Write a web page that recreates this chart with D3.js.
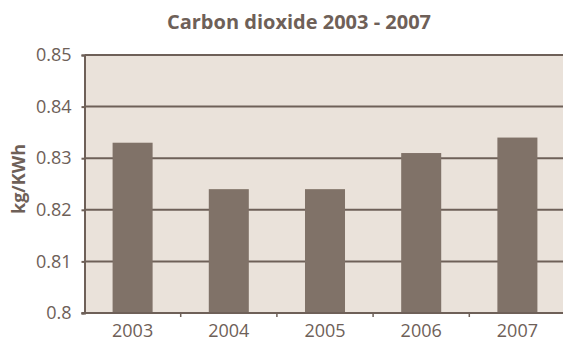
<!DOCTYPE html>
<html>
<head>
<meta charset="utf-8">
<script src="https://cdn.jsdelivr.net/npm/d3@7"></script>
<style>
  html, body { margin: 0; padding: 0; background: #ffffff; }
  svg { display: block; }
  text { font-family: "Open Sans", sans-serif; fill: #6e6058; }
</style>
</head>
<body>
<script>
// Carbon dioxide emission factor per year (kg/KWh)
const years = ["2003", "2004", "2005", "2006", "2007"];
const values = [0.833, 0.824, 0.824, 0.831, 0.834];
const yTicks = [0.8, 0.81, 0.82, 0.83, 0.84, 0.85];

const width = 563, height = 341;
const margin = { top: 55, right: -2.5, bottom: 28, left: 84.5 };

const ink = "#6e6058";
const barColor = "#807268";
const plotBg = "#eae2da";

const svg = d3.select("body").append("svg")
  .attr("width", width)
  .attr("height", height);

const x = d3.scaleBand()
  .domain(years)
  .range([margin.left, width - margin.right])
  .paddingInner(0.584)
  .paddingOuter(0.292);

const y = d3.scaleLinear()
  .domain([0.8, 0.85])
  .range([height - margin.bottom, margin.top]);

// plot background
svg.append("rect")
  .attr("x", margin.left)
  .attr("y", y(0.85))
  .attr("width", width - margin.left)
  .attr("height", y(0.8) - y(0.85))
  .attr("fill", plotBg);

// horizontal gridlines
svg.append("g")
  .selectAll("line")
  .data(yTicks.filter(d => d > 0.8))
  .join("line")
  .attr("x1", margin.left)
  .attr("x2", width)
  .attr("y1", d => y(d))
  .attr("y2", d => y(d))
  .attr("stroke", ink)
  .attr("stroke-width", 2);

// bars
svg.append("g")
  .selectAll("rect")
  .data(years.map((yr, i) => ({ yr, v: values[i] })))
  .join("rect")
  .attr("x", d => x(d.yr))
  .attr("width", x.bandwidth())
  .attr("y", d => y(d.v))
  .attr("height", d => y(0.8) - y(d.v))
  .attr("fill", barColor);

// y axis
const yAxis = svg.append("g")
  .attr("transform", `translate(${margin.left},0)`)
  .call(d3.axisLeft(y).tickValues(yTicks).tickSize(3).tickPadding(10)
    .tickFormat(d => d3.format("")(+d.toFixed(2))));
yAxis.select(".domain").attr("stroke", ink).attr("stroke-width", 2);
yAxis.selectAll(".tick line").attr("stroke", ink).attr("stroke-width", 2);
yAxis.selectAll(".tick text")
  .attr("fill", ink)
  .style("font-size", "18px")
  .style("font-family", "'Open Sans', sans-serif");

// x axis with small ticks at category boundaries
const xAxisY = y(0.8);
svg.append("line")
  .attr("x1", margin.left - 3)
  .attr("x2", width)
  .attr("y1", xAxisY)
  .attr("y2", xAxisY)
  .attr("stroke", ink)
  .attr("stroke-width", 2);

svg.append("g")
  .selectAll("line")
  .data(years.slice(1))
  .join("line")
  .attr("x1", d => x(d) - x.step() * x.paddingInner() / 2)
  .attr("x2", d => x(d) - x.step() * x.paddingInner() / 2)
  .attr("y1", xAxisY)
  .attr("y2", xAxisY + 4)
  .attr("stroke", ink)
  .attr("stroke-width", 1.5);

svg.append("g")
  .selectAll("text")
  .data(years)
  .join("text")
  .attr("x", d => x(d) + x.bandwidth() / 2)
  .attr("y", xAxisY + 24)
  .attr("text-anchor", "middle")
  .style("font-size", "18px")
  .text(d => d);

// title
svg.append("text")
  .attr("x", 299)
  .attr("y", 29)
  .attr("text-anchor", "middle")
  .style("font-size", "20px")
  .style("font-weight", "bold")
  .text("Carbon dioxide 2003 - 2007");

// y axis label
svg.append("text")
  .attr("transform", `translate(25,${(y(0.8) + y(0.85)) / 2 - 5}) rotate(-90)`)
  .attr("text-anchor", "middle")
  .style("font-size", "18px")
  .style("font-weight", "bold")
  .text("kg/KWh");
</script>
</body>
</html>
